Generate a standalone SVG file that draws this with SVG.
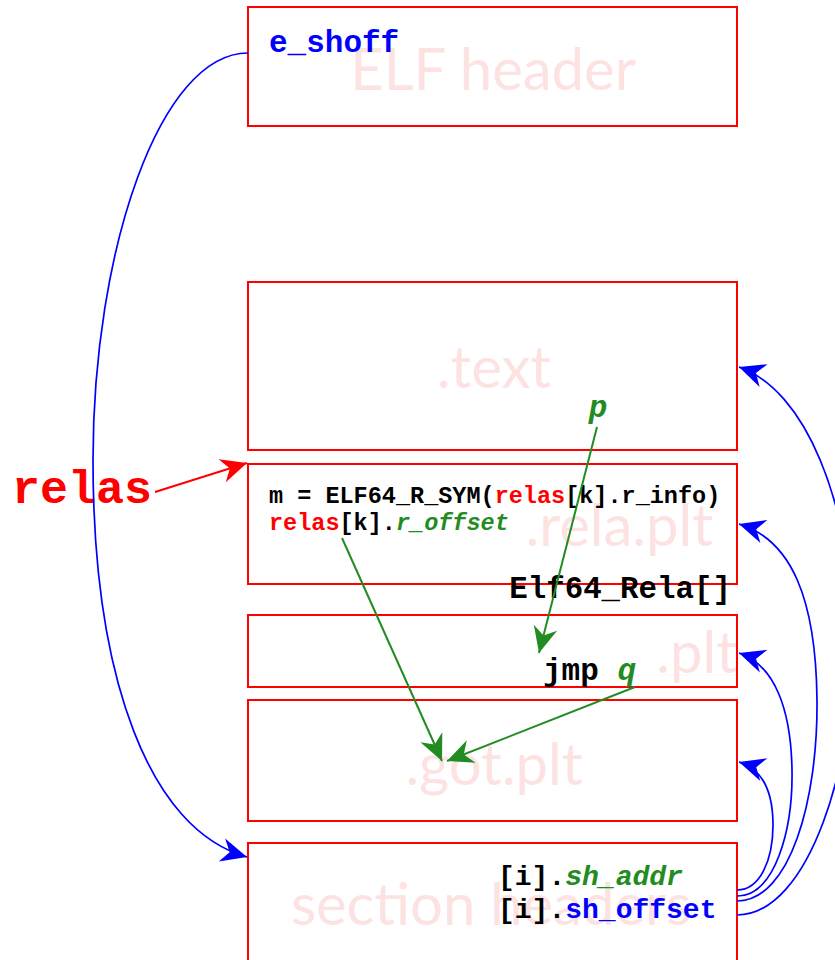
<svg xmlns="http://www.w3.org/2000/svg" width="835" height="960" viewBox="0 0 835 960">
<style>
.box{fill:none;stroke:#ff0000;stroke-width:2}
.wm{font-family:Lato,"Open Sans",sans-serif;fill:#fde2e2;font-size:58px}
.mono{font-family:"Liberation Mono","Courier New",monospace;font-weight:bold}
.k{fill:#000}
.r{fill:#ff0000}
.g{fill:#228b22;font-style:italic}
.b{fill:#0000ff}
.cb{fill:none;stroke:#0000ff;stroke-width:1.7}
.cg{fill:none;stroke:#228b22;stroke-width:2}
.cr{fill:none;stroke:#ff0000;stroke-width:2}
</style>
<defs>
<marker id="ab" viewBox="-28 -14 30 28" refX="0" refY="0" markerWidth="30" markerHeight="28" markerUnits="userSpaceOnUse" orient="auto"><path d="M0,0 L-26,-12 L-18,0 L-26,12 z" fill="#0000ff"/></marker>
<marker id="ag" viewBox="-28 -14 30 28" refX="0" refY="0" markerWidth="30" markerHeight="28" markerUnits="userSpaceOnUse" orient="auto"><path d="M0,0 L-26,-12 L-18,0 L-26,12 z" fill="#228b22"/></marker>
<marker id="ar" viewBox="-28 -14 30 28" refX="0" refY="0" markerWidth="30" markerHeight="28" markerUnits="userSpaceOnUse" orient="auto"><path d="M0,0 L-26,-12 L-18,0 L-26,12 z" fill="#ff0000"/></marker>
</defs>

<g id="elf-header">
<text class="wm" x="493" y="90" text-anchor="middle">ELF header</text>
<rect class="box" x="248" y="7" width="489" height="119"/>
<text class="mono b" x="269" y="52" font-size="31">e_shoff</text>
</g>

<g id="text-section">
<text class="wm" x="494" y="388" text-anchor="middle">.text</text>
<rect class="box" x="248" y="282" width="489" height="168"/>
<text class="mono g" x="598" y="417" font-size="31" text-anchor="middle">p</text>
</g>

<g id="rela-plt">
<text class="wm" x="713" y="546" text-anchor="end">.rela.plt</text>
<rect class="box" x="248" y="464" width="489" height="120"/>
<text class="mono" x="269" y="503" font-size="23.5"><tspan class="k">m = ELF64_R_SYM(</tspan><tspan class="r">relas</tspan><tspan class="k">[k].r_info)</tspan></text>
<text class="mono" x="269" y="530" font-size="23.5"><tspan class="r">relas</tspan><tspan class="k">[k].</tspan><tspan class="g">r_offset</tspan></text>
<text class="mono k" x="731" y="598" font-size="30.8" text-anchor="end">Elf64_Rela[]</text>
</g>

<g id="plt">
<text class="wm" x="737" y="673" text-anchor="end">.plt</text>
<rect class="box" x="248" y="615" width="489" height="72"/>
<text class="mono" x="543" y="680" font-size="31"><tspan class="k">jmp </tspan><tspan class="g">q</tspan></text>
</g>

<g id="got-plt">
<text class="wm" x="494" y="785" text-anchor="middle">.got.plt</text>
<rect class="box" x="248" y="700" width="489" height="121"/>
</g>

<g id="section-headers">
<text class="wm" x="491" y="925" text-anchor="middle">section headers</text>
<rect class="box" x="248" y="843" width="489" height="130"/>
<text class="mono" x="498" y="885" font-size="28"><tspan class="k">[i].</tspan><tspan class="g">sh_addr</tspan></text>
<text class="mono" x="498" y="918" font-size="28"><tspan class="k">[i].</tspan><tspan class="b">sh_offset</tspan></text>
</g>

<g id="relas-label">
<text class="mono r" x="12" y="503" font-size="46.7">relas</text>
</g>

<g id="connectors">
<path class="cb" d="M248,53 C160,53 93,250 93,460 C93,680 150,830 247,857" marker-end="url(#ab)"/>
<path class="cr" d="M155,492 L247,463" marker-end="url(#ar)"/>
<path class="cg" d="M597,427 L539,653" marker-end="url(#ag)"/>
<path class="cg" d="M342,538 L442,761" marker-end="url(#ag)"/>
<path class="cg" d="M635,687 L447,761" marker-end="url(#ag)"/>
<path class="cb" d="M737,915 C810,915 855,760 853,640 C851,500 805,390 739,367" marker-end="url(#ab)"/>
<path class="cb" d="M737,901 C790,901 818,800 817,700 C816,600 792,540 739,524" marker-end="url(#ab)"/>
<path class="cb" d="M737,896 C775,896 793,830 792,770 C791,710 775,665 739,653" marker-end="url(#ab)"/>
<path class="cb" d="M737,890 C760,890 773,860 773,825 C773,795 765,770 739,762" marker-end="url(#ab)"/>
</g>
</svg>
